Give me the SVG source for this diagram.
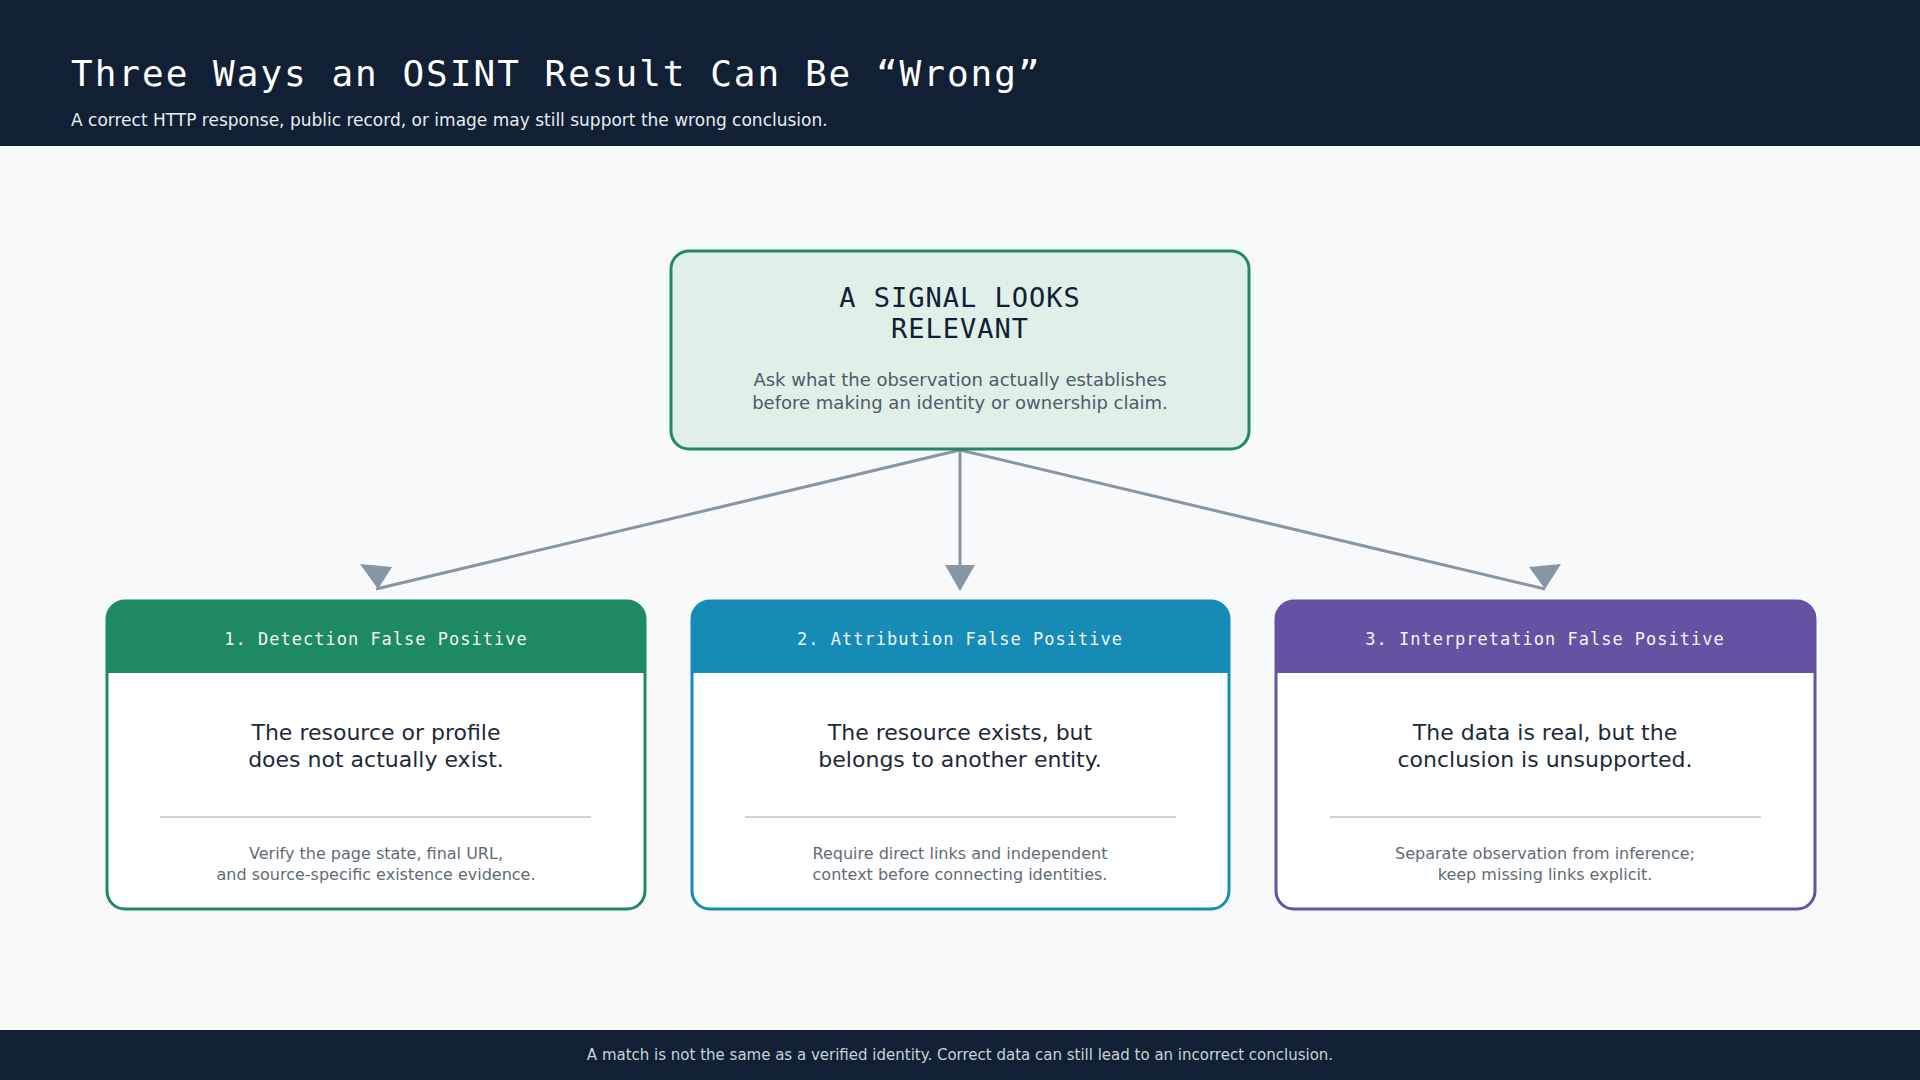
<svg xmlns="http://www.w3.org/2000/svg" width="1920" height="1080" viewBox="0 0 1920 1080">
<style>
.mono{font-family:"DejaVu Sans Mono","Liberation Mono",monospace}
.sans{font-family:"DejaVu Sans","Noto Sans",sans-serif}
.conn{stroke:#8796a5;stroke-width:3;fill:none}
.head{fill:#8796a5}
.main{font-size:22px;fill:#1b2a3a;text-anchor:middle}
.small{font-size:16px;fill:#5f6b76;text-anchor:middle}
.ctitle{font-size:17px;fill:#f2f6f8;text-anchor:middle;letter-spacing:1px}
.div{stroke:#cfd3d6;stroke-width:2}
</style>
<rect width="1920" height="1080" fill="#f7f9fb"/>
<rect width="1920" height="146" fill="#112035"/>
<text x="71" y="86" class="mono" font-size="36" fill="#ffffff" letter-spacing="2">Three Ways an OSINT Result Can Be “Wrong”</text>
<text x="71" y="126" class="sans" font-size="17" fill="#e6ecf1">A correct HTTP response, public record, or image may still support the wrong conclusion.</text>
<rect y="1030" width="1920" height="50" fill="#112035"/>
<text x="960" y="1060" class="sans" font-size="15" fill="#c9d2da" text-anchor="middle">A match is not the same as a verified identity. Correct data can still lead to an incorrect conclusion.</text>

<g id="connectors">
<line class="conn" x1="960" y1="450" x2="376" y2="589"/>
<line class="conn" x1="960" y1="450" x2="960" y2="589"/>
<line class="conn" x1="960" y1="450" x2="1545" y2="589"/>
<polygon class="head" points="360,564 392,567 378,589"/>
<polygon class="head" points="945,565 975,565 960,591"/>
<polygon class="head" points="1529,567 1561,564 1545,589"/>
</g>

<g id="top">
<rect x="671" y="251" width="578" height="198" rx="18" fill="#e0efe8" stroke="#1e8a62" stroke-width="3"/>
<text x="960" y="307" class="mono" font-size="27" fill="#112035" text-anchor="middle" letter-spacing="1">A SIGNAL LOOKS</text>
<text x="960" y="338" class="mono" font-size="27" fill="#112035" text-anchor="middle" letter-spacing="1">RELEVANT</text>
<text x="960" y="386" class="sans" font-size="18" fill="#4d5b68" text-anchor="middle">Ask what the observation actually establishes</text>
<text x="960" y="409" class="sans" font-size="18" fill="#4d5b68" text-anchor="middle">before making an identity or ownership claim.</text>
</g>

<g id="card1">
<rect x="107" y="601" width="538" height="308" rx="18" fill="#ffffff" stroke="#1e8a62" stroke-width="3"/>
<path d="M107,673 V619 a18,18 0 0 1 18,-18 H627 a18,18 0 0 1 18,18 V673 Z" fill="#1e8a62"/>
<text x="376" y="645" class="mono ctitle">1. Detection False Positive</text>
<text x="376" y="740" class="sans main">The resource or profile</text>
<text x="376" y="767" class="sans main">does not actually exist.</text>
<line class="div" x1="160" y1="817" x2="591" y2="817"/>
<text x="376" y="859" class="sans small">Verify the page state, final URL,</text>
<text x="376" y="880" class="sans small">and source-specific existence evidence.</text>
</g>

<g id="card2">
<rect x="692" y="601" width="537" height="308" rx="18" fill="#ffffff" stroke="#168bb5" stroke-width="3"/>
<path d="M692,673 V619 a18,18 0 0 1 18,-18 H1211 a18,18 0 0 1 18,18 V673 Z" fill="#168bb5"/>
<text x="960" y="645" class="mono ctitle">2. Attribution False Positive</text>
<text x="960" y="740" class="sans main">The resource exists, but</text>
<text x="960" y="767" class="sans main">belongs to another entity.</text>
<line class="div" x1="745" y1="817" x2="1176" y2="817"/>
<text x="960" y="859" class="sans small">Require direct links and independent</text>
<text x="960" y="880" class="sans small">context before connecting identities.</text>
</g>

<g id="card3">
<rect x="1276" y="601" width="539" height="308" rx="18" fill="#ffffff" stroke="#6652a3" stroke-width="3"/>
<path d="M1276,673 V619 a18,18 0 0 1 18,-18 H1797 a18,18 0 0 1 18,18 V673 Z" fill="#6652a3"/>
<text x="1545" y="645" class="mono ctitle">3. Interpretation False Positive</text>
<text x="1545" y="740" class="sans main">The data is real, but the</text>
<text x="1545" y="767" class="sans main">conclusion is unsupported.</text>
<line class="div" x1="1330" y1="817" x2="1761" y2="817"/>
<text x="1545" y="859" class="sans small">Separate observation from inference;</text>
<text x="1545" y="880" class="sans small">keep missing links explicit.</text>
</g>
</svg>
